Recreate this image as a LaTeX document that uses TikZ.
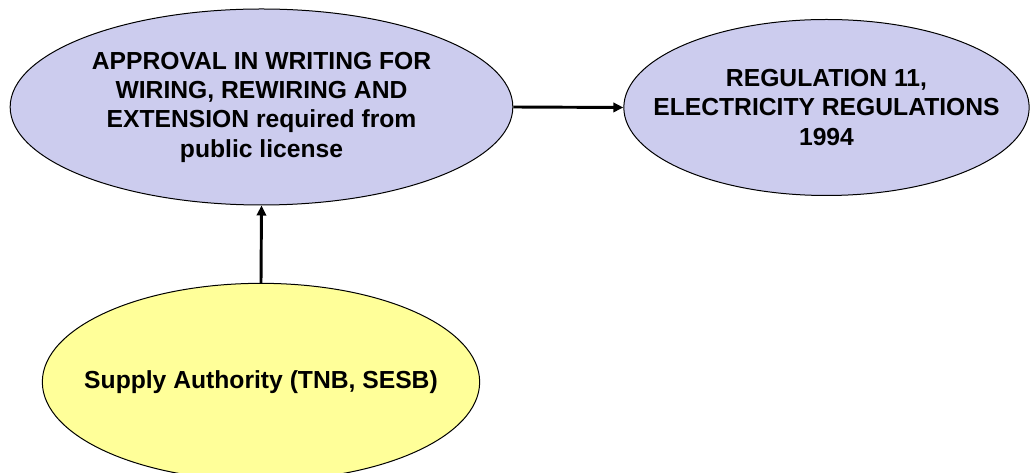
\documentclass[tikz,border=0pt]{standalone}
\usepackage{fontspec}
\setmainfont{Liberation Sans}
\usetikzlibrary{shapes.geometric,arrows.meta}

\definecolor{lavender}{RGB}{204,204,238}
\definecolor{paleyellow}{RGB}{255,255,153}

\tikzset{
  oval/.style={ellipse, draw=black, line width=0.75pt, inner xsep=-40pt, inner ysep=0pt,
    align=center, font=\bfseries\fontsize{18.5}{22}\selectfont},
  link/.style={line width=2.2pt, -{Triangle[length=7.5pt,width=7pt]}}
}

\begin{document}
\begin{tikzpicture}[x=0.75pt, y=-0.75pt]

    \useasboundingbox (0,0) rectangle (1033,473);

    \node[oval, fill=lavender, minimum width=377pt, minimum height=147pt] (approval) at (261.5, 107)
      {APPROVAL IN WRITING FOR\\ WIRING, REWIRING AND\\ EXTENSION required from\\ public license};
    \node[oval, fill=lavender, minimum width=304pt, minimum height=132pt] (regulation) at (826.5, 107.5)
      {REGULATION 11,\\ ELECTRICITY REGULATIONS\\ 1994};
    \node[oval, fill=paleyellow, minimum width=328pt, minimum height=148pt] (supply) at (261, 382)
      {Supply Authority (TNB, SESB)};

    \draw [link] (approval.east) -- (regulation.west);
    \draw [link] (supply.north) -- (approval.south);

\end{tikzpicture}
\end{document}
